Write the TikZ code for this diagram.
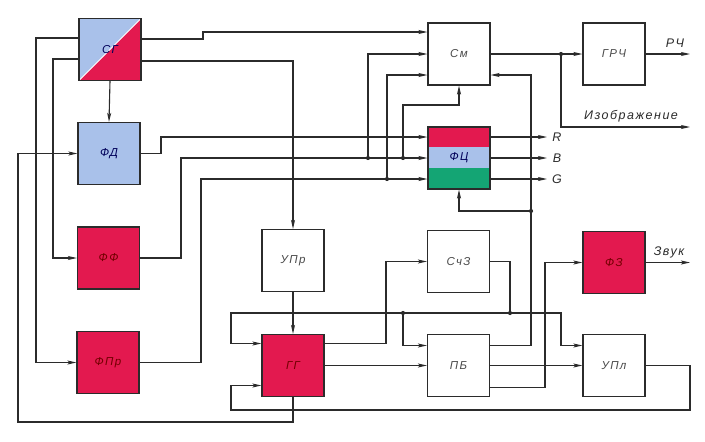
\documentclass[tikz,border=0pt]{standalone}
\usepackage{fontspec}
\setmainfont{Liberation Sans}
\newfontfamily\lbl[LetterSpace=12]{Liberation Sans}
\usetikzlibrary{arrows.meta}
\definecolor{fblue}{HTML}{A9C1EA}
\definecolor{fred}{HTML}{E3194F}
\definecolor{fgreen}{HTML}{14A574}
\definecolor{ink}{HTML}{2B2B2B}
\tikzset{
 blk/.style={draw=ink, line width=1.2pt, minimum width=62pt, minimum height=62pt, inner sep=0pt,
   font=\lbl\itshape\fontsize{11.5}{13}\selectfont, text=ink!85},
 redblk/.style={blk, fill=fred, text=red!45!black},
 blueblk/.style={blk, fill=fblue, text=blue!35!black},
 wire/.style={draw=ink, line width=1.1pt},
 arr/.style={wire, -{Stealth[length=9pt,width=4pt,inset=2pt]}},
 jdot/.style={circle, fill=ink, inner sep=0pt, minimum size=4.2pt},
 lab/.style={font=\lbl\itshape\fontsize{12.5}{14}\selectfont, text=ink, inner sep=0pt},
}
\begin{document}
\begin{tikzpicture}[x=1pt,y=-1pt]
\useasboundingbox[fill=white] (0,0) rectangle (705,442);
% blocks
\node[blk, text=blue!35!black, path picture={
  \fill[fblue] (path picture bounding box.north west) -- (path picture bounding box.north east) -- (path picture bounding box.south west) -- cycle;
  \fill[fred] (path picture bounding box.north east) -- (path picture bounding box.south east) -- (path picture bounding box.south west) -- cycle;
  \draw[white, line width=0.8pt] (path picture bounding box.south west) -- (path picture bounding box.north east);}]
  (SG) at (110,49.5) {СГ};
\node[blueblk] (FD) at (109,153.5) {ФД};
\node[redblk] (FF) at (108.5,258) {ФФ};
\node[redblk] (FPr) at (108,362.5) {ФПр};
\node[blk] (UPr) at (293,260.5) {УПр};
\node[redblk] (GG) at (293,365.5) {ГГ};
\node[blk] (Sm) at (459,54) {См};
\node[blk, text=blue!35!black, path picture={
  \fill[fred] ([yshift=-20pt]path picture bounding box.north west) rectangle (path picture bounding box.north east);
  \fill[fblue] ([yshift=-20pt]path picture bounding box.north west) rectangle ([yshift=21pt]path picture bounding box.south east);
  \fill[fgreen] (path picture bounding box.south west) rectangle ([yshift=21pt]path picture bounding box.south east);}]
  (FC) at (459,158) {ФЦ};
\node[blk] (GRCh) at (614,54) {ГРЧ};
\node[blk] (SchZ) at (458.5,261.5) {СчЗ};
\node[redblk] (FZ) at (614,262.5) {ФЗ};
\node[blk] (PB) at (458.5,365.5) {ПБ};
\node[blk] (UPl) at (614,365.5) {УПл};
% junctions
\coordinate (jb1) at (368,158);
\coordinate (jb2) at (403,158);
\coordinate (jg) at (387,179);
\coordinate (js) at (561,54);
\coordinate (jf) at (531,211);
\coordinate (jz) at (510,313);
\coordinate (jp) at (403,313);
% connectors
\draw[arr] (SG.south) -- (FD.north);
\draw[arr] ([yshift=10.5pt]SG.east) -- (203,39) |- ([yshift=22pt]Sm.west);
\draw[arr] ([yshift=-11.5pt]SG.east) -| (UPr.north);
\draw[arr] ([yshift=11.5pt]SG.west) -- (36,38) |- (FPr.west);
\draw[arr] ([yshift=-9.5pt]SG.west) -- (53,59) |- (FF.west);
\draw[arr] (GG.south) |- (18,422) |- (FD.west);
\draw[arr] (FD.east) -- (161,153.5) |- ([yshift=21pt]FC.west);
\draw[arr] (FF.east) -- (181,258) |- (FC.west);
\draw[arr] (FPr.east) -- (201,362.5) |- ([yshift=-21pt]FC.west);
\draw[arr] (jb1) |- (Sm.west);
\draw[arr] (jb2) -- (403,105) -| (Sm.south);
\draw[arr] (jg) |- ([yshift=-21pt]Sm.west);
\draw[arr] (Sm.east) -- (GRCh.west);
\draw[arr] (js) |- (690,127) coordinate (imgEnd);
\draw[arr] (GRCh.east) -- (690,54) coordinate (rchEnd);
\draw[arr] ([yshift=21pt]FC.east) -- (547,137) coordinate (rEnd);
\draw[arr] (FC.east) -- (547,158) coordinate (bEnd);
\draw[arr] ([yshift=-21pt]FC.east) -- (547,179) coordinate (gEnd);
\draw[arr] ([yshift=20pt]PB.east) -| (jf) |- ([yshift=-21pt]Sm.east);
\draw[arr] (jf) -| (FC.south);
\draw[arr] ([yshift=22pt]GG.east) -- (386,343.5) |- (SchZ.west);
\draw[arr] (GG.east) -- (PB.west);
\draw[wire] (SchZ.east) -| (jz);
\draw[arr] (jz) -- (231,313) |- ([yshift=22pt]GG.west);
\draw[arr] (jz) -- (561,313) |- ([yshift=20pt]UPl.west);
\draw[arr] (jp) |- ([yshift=20pt]PB.west);
\draw[arr] (PB.east) -- (UPl.west);
\draw[arr] ([yshift=-22pt]PB.east) -- (545,387.5) |- (FZ.west);
\draw[arr] (FZ.east) -- (690,262.5) coordinate (zvEnd);
\draw[arr] (UPl.east) -| (690,410) -- (231,410) |- ([yshift=-20pt]GG.west);
\draw[arr] (UPr.south) -- (GG.north);
% dots
\foreach \p in {jb1,jb2,jg,js,jf,jz,jp} \node[jdot] at (\p) {};
% labels
\node[lab] (lRCh) at (675,43) {РЧ};
\node[lab] (lImg) at (631,116) {Изображение};
\node[lab] (lZv) at (669,252) {Звук};
\node[lab] (lR) at (557,137) {R};
\node[lab] (lB) at (557,158) {B};
\node[lab] (lG) at (557,179) {G};
\end{tikzpicture}
\end{document}
